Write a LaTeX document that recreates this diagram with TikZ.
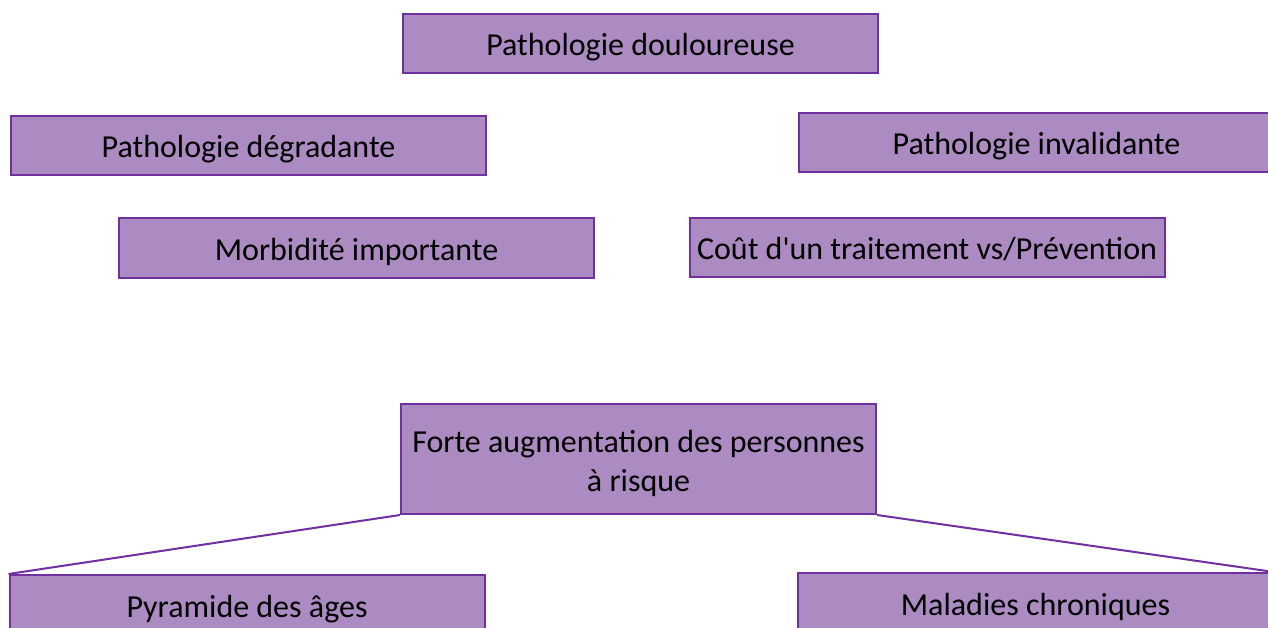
\documentclass[tikz,border=0pt]{standalone}
\usepackage{fontspec}
\setmainfont{Carlito}
\definecolor{boxfill}{HTML}{AB8BC1}
\definecolor{boxline}{HTML}{7030A0}
\begin{document}
\begin{tikzpicture}[x=1pt,y=-1pt,
  box/.style={draw=boxline,fill=boxfill,line width=2pt,minimum width=475pt,minimum height=59pt,inner sep=0pt,font=\fontsize{32}{39}\selectfont,text=black,align=center,text height=33pt,text depth=8pt},
  link/.style={draw=boxline,line width=2pt}]
\useasboundingbox (0,0) rectangle (1268,628);
\node[box] (doul) at (640.5,43.5) {Pathologie douloureuse};
\node[box] (degr) at (248.5,145.5) {Pathologie dégradante};
\node[box] (inval) at (1036.5,142.5) {Pathologie invalidante};
\node[box] (morb) at (356.5,248) {Morbidité importante};
\node[box] (cout) at (927,247.5) {Coût d\textquotesingle un traitement vs/Prévention};
\node[box,minimum height=110pt,text height=72pt] (forte) at (638.5,459) {Forte augmentation des personnes\\à risque};
\node[box] (pyr) at (247,604.5) {Pyramide des âges};
\node[box] (mal) at (1035.5,602.5) {Maladies chroniques};
\draw[link] (forte.south west) -- (pyr.north west);
\draw[link] (forte.south east) -- (mal.north east);
\end{tikzpicture}
\end{document}
